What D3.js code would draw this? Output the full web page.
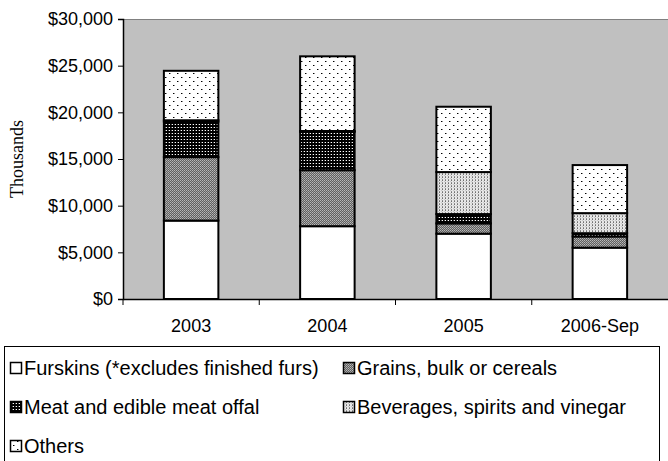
<!DOCTYPE html>
<html><head><meta charset="utf-8">
<script src="https://cdn.jsdelivr.net/npm/d3@7/dist/d3.min.js"></script>
<style>
html,body{margin:0;padding:0;background:#fff;}
svg{display:block;font-family:"Liberation Sans",Arial,sans-serif;}
</style></head>
<body>
<script>
const categories = ["2003", "2004", "2005", "2006-Sep"];
const seriesNames = ["Furskins (*excludes finished furs)", "Grains, bulk or cereals", "Meat and edible meat offal", "Beverages, spirits and vinegar", "Others"];
const furskins  = [8400, 7800, 7000, 5500];
const grains    = [6800, 6000, 1100, 1200];
const meat      = [3800, 4100, 1000, 350];
const beverages = [150, 100, 4500, 2150];
const others    = [5300, 8000, 7000, 5150];
const yTicks = [0, 5000, 10000, 15000, 20000, 25000, 30000];
const yLabel = "Thousands";

const W = 668, H = 461;
const plot = {left: 123, right: 668, top: 19, bottom: 299};

const svg = d3.select("body").append("svg").attr("width", W).attr("height", H);
const defs = svg.append("defs");

function pat(id, w, h, bg, pts){
  const p = defs.append("pattern").attr("id", id).attr("patternUnits","userSpaceOnUse")
    .attr("width", w).attr("height", h);
  p.append("rect").attr("width", w).attr("height", h).attr("fill", bg);
  pts.forEach(d => p.append("rect").attr("x", d[0]).attr("y", d[1]).attr("width", d[2]||1).attr("height", d[3]||1).attr("fill", d[4]));
}
pat("p0", 4, 4, "#ffffff", []);
pat("p1", 2, 2, "#606060", [[0,0,1,1,"#b8b8b8"],[1,1,1,1,"#a0a0a0"]]);
pat("p2", 3, 3, "#000000", [[1,1,1,1,"#ffffff"],[0,1,1,1,"#505050"]]);
pat("p3", 3, 3, "#e6e6e6", [[1,0,1,1,"#707070"],[1,2,1,1,"#909090"],[0,1,1,1,"#c8c8c8"]]);
pat("p4", 8, 8, "#ffffff", [[1,1,1,1,"#000000"],[5,5,1,1,"#000000"],[2,1,1,1,"#909090"],[6,5,1,1,"#909090"]]);
const fills = ["url(#p0)","url(#p1)","url(#p2)","url(#p3)","url(#p4)"];

const table = categories.map((c,i)=>({cat:c, s0:furskins[i], s1:grains[i], s2:meat[i], s3:beverages[i], s4:others[i]}));
const keys = ["s0","s1","s2","s3","s4"];
const stacked = d3.stack().keys(keys)(table);

const x = d3.scaleBand().domain(categories).range([plot.left, plot.right]).paddingInner(0.6).paddingOuter(0.3);
const y = d3.scaleLinear().domain([0, 30000]).range([plot.bottom, plot.top]);

svg.append("rect").attr("x", plot.left).attr("y", plot.top)
  .attr("width", plot.right - plot.left).attr("height", plot.bottom - plot.top)
  .attr("fill", "#c0c0c0");
svg.append("line").attr("x1", plot.left).attr("x2", plot.right).attr("y1", plot.top+0.5).attr("y2", plot.top+0.5)
  .attr("stroke", "#808080").attr("stroke-width", 1);

stacked.forEach((s, k) => {
  svg.append("g").selectAll("rect").data(s).enter().append("rect")
    .attr("x", (d,i) => x(categories[i]))
    .attr("y", d => y(d[1]))
    .attr("width", x.bandwidth())
    .attr("height", d => y(d[0]) - y(d[1]))
    .attr("fill", fills[k])
    .attr("stroke", "#000").attr("stroke-width", 2);
});

const yAxis = svg.append("g").attr("transform", `translate(${plot.left},0)`)
  .call(d3.axisLeft(y).tickValues(yTicks).tickFormat(d3.format("$,")).tickSize(5).tickPadding(5));
yAxis.attr("font-family", null).attr("font-size", null);
yAxis.select(".domain").attr("stroke", "#000").attr("stroke-width", 1.5);
yAxis.selectAll(".tick line").attr("stroke", "#000");
yAxis.selectAll("text").style("font-size", "18px").attr("fill", "#000")
  .style("font-family", "'Liberation Sans', Arial, sans-serif");

const xAxis = svg.append("g").attr("transform", `translate(0,${plot.bottom})`)
  .call(d3.axisBottom(x).tickSize(0).tickPadding(20));
xAxis.attr("font-family", null).attr("font-size", null);
xAxis.select(".domain").attr("stroke", "#000").attr("stroke-width", 1.5);
xAxis.selectAll("text").style("font-size", "18px").attr("fill", "#000")
  .style("font-family", "'Liberation Sans', Arial, sans-serif");
const bounds = categories.map(c => x(c) + x.bandwidth()/2 - x.step()/2);
xAxis.selectAll("line.bnd").data(bounds).enter().append("line").attr("class","bnd")
  .attr("x1", d => d).attr("x2", d => d).attr("y1", 0).attr("y2", 6)
  .attr("stroke", "#000").attr("stroke-width", 1);

svg.append("text").attr("transform", `translate(23,${(plot.top+plot.bottom)/2}) rotate(-90)`)
  .attr("text-anchor", "middle")
  .style("font-size", "18px")
  .style("font-family", "'Liberation Serif','Times New Roman',serif")
  .text(yLabel);

const lg = svg.append("g");
lg.append("rect").attr("x", 4.5).attr("y", 346.5).attr("width", 655).attr("height", 130)
  .attr("fill", "#fff").attr("stroke", "#000").attr("stroke-width", 1);
seriesNames.forEach((n, i) => {
  const col = i % 2, row = Math.floor(i / 2);
  const gx = col === 0 ? 10 : 343, gy = 368 + row * 39;
  lg.append("rect").attr("x", gx + 0.5).attr("y", gy - 5.5).attr("width", 11).attr("height", 11)
    .attr("fill", fills[i]).attr("stroke", "#000").attr("stroke-width", 1.5);
  lg.append("text").attr("x", gx + 14).attr("y", gy).attr("dy", "0.35em")
    .style("font-size", "20px")
    .style("font-family", "'Liberation Sans', Arial, sans-serif").text(n);
});
</script>
</body></html>
